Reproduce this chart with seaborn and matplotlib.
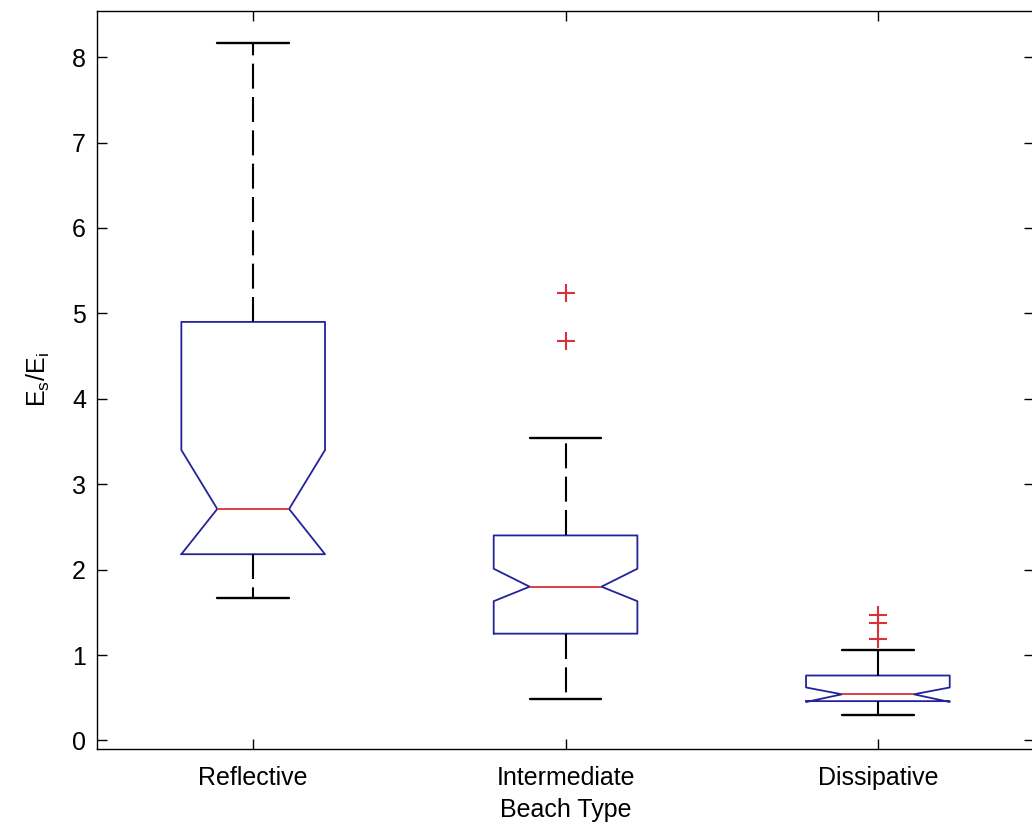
import numpy as np
import matplotlib
matplotlib.use("Agg")
import matplotlib.pyplot as plt
import seaborn as sns

# ---- data ----
categories = ["Reflective", "Intermediate", "Dissipative"]
q1 = [2.18, 1.25, 0.46]
med = [2.71, 1.80, 0.54]
q3 = [4.90, 2.40, 0.76]
whislo = [1.67, 0.48, 0.30]
whishi = [8.17, 3.54, 1.06]
cilo = [2.18, 1.63, 0.45]
cihi = [3.40, 2.01, 0.62]
fliers = [[], [4.68, 5.24], [1.19, 1.38, 1.47]]
yticks = [0, 1, 2, 3, 4, 5, 6, 7, 8]

sns.set_theme(style="ticks")
plt.rcParams['font.family'] = ['Liberation Sans', 'DejaVu Sans']
plt.rcParams['mathtext.default'] = 'regular'

BLUE = '#23239a'
RED = '#d9303a'

fig = plt.figure(figsize=(10.32, 8.32), dpi=100)
fig.patch.set_facecolor('white')
ax = fig.add_axes([0.094, 0.0998, 0.908, 0.887])
ax.set_facecolor('white')

stats = []
for i, c in enumerate(categories):
    stats.append(dict(label=c, q1=q1[i], med=med[i], q3=q3[i],
                      whislo=whislo[i], whishi=whishi[i],
                      cilo=cilo[i], cihi=cihi[i],
                      fliers=np.array(fliers[i])))

ax.bxp(stats, positions=[1, 2, 3], widths=0.46, showfliers=True,
       shownotches=True, patch_artist=False,
       boxprops=dict(color=BLUE, lw=1.3),
       medianprops=dict(color=RED, lw=1.3),
       whiskerprops=dict(color='black', lw=1.5, linestyle=(0, (12, 4))),
       capprops=dict(color='black', lw=1.7),
       flierprops=dict(marker='+', markeredgecolor=RED, markersize=13,
                       markeredgewidth=1.5, linestyle='none'))

ax.set_xlim(0.5, 3.5)
ax.set_ylim(-0.1, 8.54)
ax.set_yticks(yticks)
ax.set_xticks([1, 2, 3])
ax.set_xticklabels(categories)
for s in ax.spines.values():
    s.set_visible(True)
    s.set_color('black')
    s.set_linewidth(1.0)
ax.tick_params(direction='in', top=True, right=True, length=7, width=1,
               labelsize=18, pad=8, colors='black')
ax.tick_params(axis='x', pad=12)
ax.set_xlabel('Beach Type', fontsize=18, labelpad=6, color='black')
ax.set_ylabel(r'$E_s/E_i$', fontsize=18, labelpad=14, color='black')

fig.savefig('out.png', dpi=100, facecolor='white')
